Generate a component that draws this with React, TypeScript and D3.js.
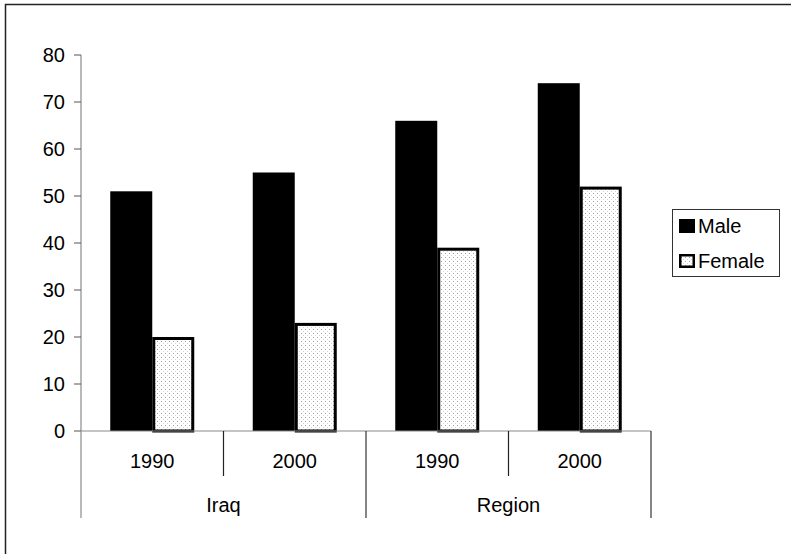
import React from "react";
import * as d3 from "d3";

// Percentages by group and year
const groups = ["Iraq", "Region"];
const years = ["1990", "2000"];
const categories = ["Iraq 1990", "Iraq 2000", "Region 1990", "Region 2000"];
const maleValues = [51, 55, 66, 74];
const femaleValues = [20, 23, 39, 52];
const seriesNames = ["Male", "Female"];
const yTicks = [0, 10, 20, 30, 40, 50, 60, 70, 80];

const W = 791;
const H = 554;
const plot = { left: 81, right: 651, top: 55, bottom: 431 };
const FONT = "'Liberation Sans', Arial, Helvetica, sans-serif";

export default function App() {
  const x = d3
    .scaleBand<string>()
    .domain(categories)
    .range([plot.left, plot.right])
    .paddingInner(0)
    .paddingOuter(0);
  const y = d3.scaleLinear().domain([0, 80]).range([plot.bottom, plot.top]);

  const bw = x.bandwidth();
  const barW = 42;
  const groupOffset = (bw - barW * 2) / 2;

  const groupScale = d3
    .scaleBand<string>()
    .domain(groups)
    .range([plot.left, plot.right]);

  return (
    <svg
      width={W}
      height={H}
      style={{ position: "absolute", left: 0, top: 0, background: "#fff" }}
      fontFamily={FONT}
    >
      <defs>
        <pattern id="dots" width={4} height={4} patternUnits="userSpaceOnUse">
          <rect width={4} height={4} fill="#fff" />
          <rect x={1} y={1} width={1} height={1} fill="#a0a0a0" />
          <rect x={3} y={3} width={1} height={1} fill="#d4d4d4" />
        </pattern>
      </defs>

      {/* outer frame */}
      <rect x={5.5} y={4.5} width={820} height={620} fill="none" stroke="#222" strokeWidth={1.5} />

      {/* bars */}
      {categories.map((c, i) => {
        const x0 = (x(c) as number) + groupOffset;
        const yM = y(maleValues[i]);
        const yF = y(femaleValues[i]);
        return (
          <g key={c}>
            <rect x={x0} y={yM} width={barW} height={y(0) - yM} fill="#000" />
            <rect
              x={x0 + barW + 1.5}
              y={yF + 1.5}
              width={barW - 3}
              height={y(0) - yF - 1.5}
              fill="url(#dots)"
              stroke="#000"
              strokeWidth={3}
            />
          </g>
        );
      })}

      {/* y axis */}
      <line x1={plot.left} x2={plot.left} y1={plot.top} y2={plot.bottom} stroke="#8a8a8a" strokeWidth={1.2} />
      {yTicks.map((t) => (
        <g key={t}>
          <line x1={plot.left - 7} x2={plot.left} y1={y(t)} y2={y(t)} stroke="#555" strokeWidth={1} />
          <text x={65} y={y(t)} dy="0.36em" textAnchor="end" fontSize={20} fill="#000">
            {t}
          </text>
        </g>
      ))}

      {/* x axis */}
      <line x1={plot.left} x2={plot.right} y1={plot.bottom} y2={plot.bottom} stroke="#8a8a8a" strokeWidth={1.2} />
      {categories.map((c, i) => (
        <text
          key={c}
          x={(x(c) as number) + bw / 2}
          y={468}
          textAnchor="middle"
          fontSize={20}
          fill="#000"
        >
          {years[i % years.length]}
        </text>
      ))}
      {/* short dividers between years */}
      {groups.map((g) => {
        const mid = (groupScale(g) as number) + groupScale.bandwidth() / 2;
        return (
          <line key={g + "-mid"} x1={mid} x2={mid} y1={plot.bottom} y2={476} stroke="#222" strokeWidth={1.2} />
        );
      })}
      {/* long dividers between groups */}
      {[...groups.map((g) => groupScale(g) as number), plot.right].map((gx, i) => (
        <line key={"div" + i} x1={gx} x2={gx} y1={plot.bottom} y2={518} stroke={i === 0 ? "#8a8a8a" : "#333"} strokeWidth={1.2} />
      ))}
      {groups.map((g) => (
        <text
          key={g}
          x={(groupScale(g) as number) + groupScale.bandwidth() / 2}
          y={512}
          textAnchor="middle"
          fontSize={20}
          fill="#000"
        >
          {g}
        </text>
      ))}

      {/* legend */}
      <g>
        <rect x={672.5} y={209.5} width={107} height={67} fill="#fff" stroke="#333" strokeWidth={1} />
        <rect x={679} y={219} width={16} height={14} fill="#000" />
        <rect x={680.25} y={255.25} width={13.5} height={11.5} fill="url(#dots)" stroke="#000" strokeWidth={2.5} />
        <text x={698} y={233} fontSize={20} fill="#000">
          {seriesNames[0]}
        </text>
        <text x={698} y={268} fontSize={20} fill="#000">
          {seriesNames[1]}
        </text>
      </g>
    </svg>
  );
}
